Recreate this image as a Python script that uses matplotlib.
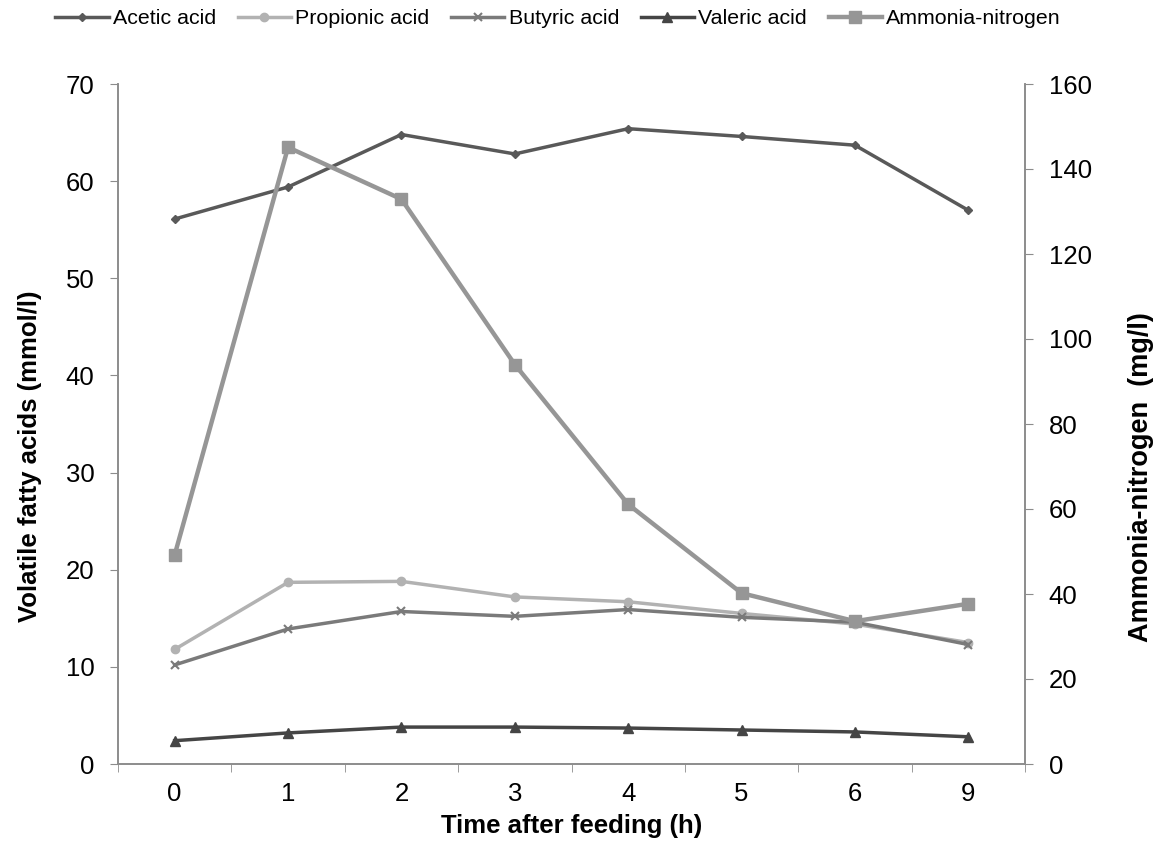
import matplotlib.pyplot as plt
import numpy as np

plt.rcParams['font.family'] = ['Liberation Sans', 'DejaVu Sans']

hours = ['0', '1', '2', '3', '4', '5', '6', '9']
acetic = [56.1, 59.4, 64.8, 62.8, 65.4, 64.6, 63.7, 57.0]
propionic = [11.8, 18.7, 18.8, 17.2, 16.7, 15.5, 14.4, 12.5]
butyric = [10.2, 13.9, 15.7, 15.2, 15.9, 15.1, 14.6, 12.3]
valeric = [2.4, 3.2, 3.8, 3.8, 3.7, 3.5, 3.3, 2.8]
ammonia = [49.2, 145.1, 132.9, 94.0, 61.1, 40.2, 33.6, 37.7]

x = np.arange(len(hours))
axis_col = '#8c8c8c'

fig = plt.figure(figsize=(11.65, 8.52), dpi=100)
ax = fig.add_axes([118/1165, 88/852, (1025-118)/1165, (764-84)/852])
ax2 = ax.twinx()

h1, = ax.plot(x, acetic, color='#595959', lw=2.5, marker='D', ms=4, label='Acetic acid')
h2, = ax.plot(x, propionic, color='#b2b2b2', lw=2.5, marker='o', ms=6, label='Propionic acid')
h3, = ax.plot(x, butyric, color='#7a7a7a', lw=2.5, marker='x', ms=6, mew=1.5, label='Butyric acid')
h4, = ax.plot(x, valeric, color='#454545', lw=2.5, marker='^', ms=7, label='Valeric acid')
h5, = ax2.plot(x, ammonia, color='#969696', lw=3.2, marker='s', ms=8, label='Ammonia-nitrogen')

ax.set_xlim(-0.5, len(hours) - 0.5)
ax.set_ylim(0, 70)
ax.set_yticks(range(0, 71, 10))
ax2.set_ylim(0, 160)
ax2.set_yticks(range(0, 161, 20))

ax.set_xticks(x)
ax.set_xticklabels(hours)
ax.set_xticks(np.arange(-0.5, len(hours)), minor=True)
ax.tick_params(axis='x', which='major', length=0, labelsize=18.5, pad=13)
ax.tick_params(axis='x', which='minor', length=6, color=axis_col, direction='out')
ax.tick_params(axis='y', labelsize=18.5, length=6, color=axis_col, pad=11)
ax2.tick_params(axis='y', labelsize=18.5, length=6, color=axis_col, pad=11)

for a in (ax, ax2):
    a.spines['top'].set_visible(False)
    for s in ('left', 'right', 'bottom'):
        a.spines[s].set_color(axis_col)
        a.spines[s].set_linewidth(1.2)

ax.set_xlabel('Time after feeding (h)', fontsize=18.5, fontweight='bold', labelpad=6)
ax.set_ylabel('Volatile fatty acids (mmol/l)', fontsize=18.5, fontweight='bold', labelpad=17)
ax2.set_ylabel('Ammonia-nitrogen  (mg/l)', fontsize=19.5, fontweight='bold', labelpad=26)
ax.yaxis.label.set_y(0.453)
ax2.yaxis.label.set_y(0.422)

fig.legend(handles=[h1, h2, h3, h4, h5], loc='upper center', bbox_to_anchor=(0.479, 1.012),
           ncol=5, frameon=False, fontsize=15.4, handlelength=2.5, columnspacing=1.0,
           handletextpad=0.2)

fig.savefig('out.png', dpi=100)
